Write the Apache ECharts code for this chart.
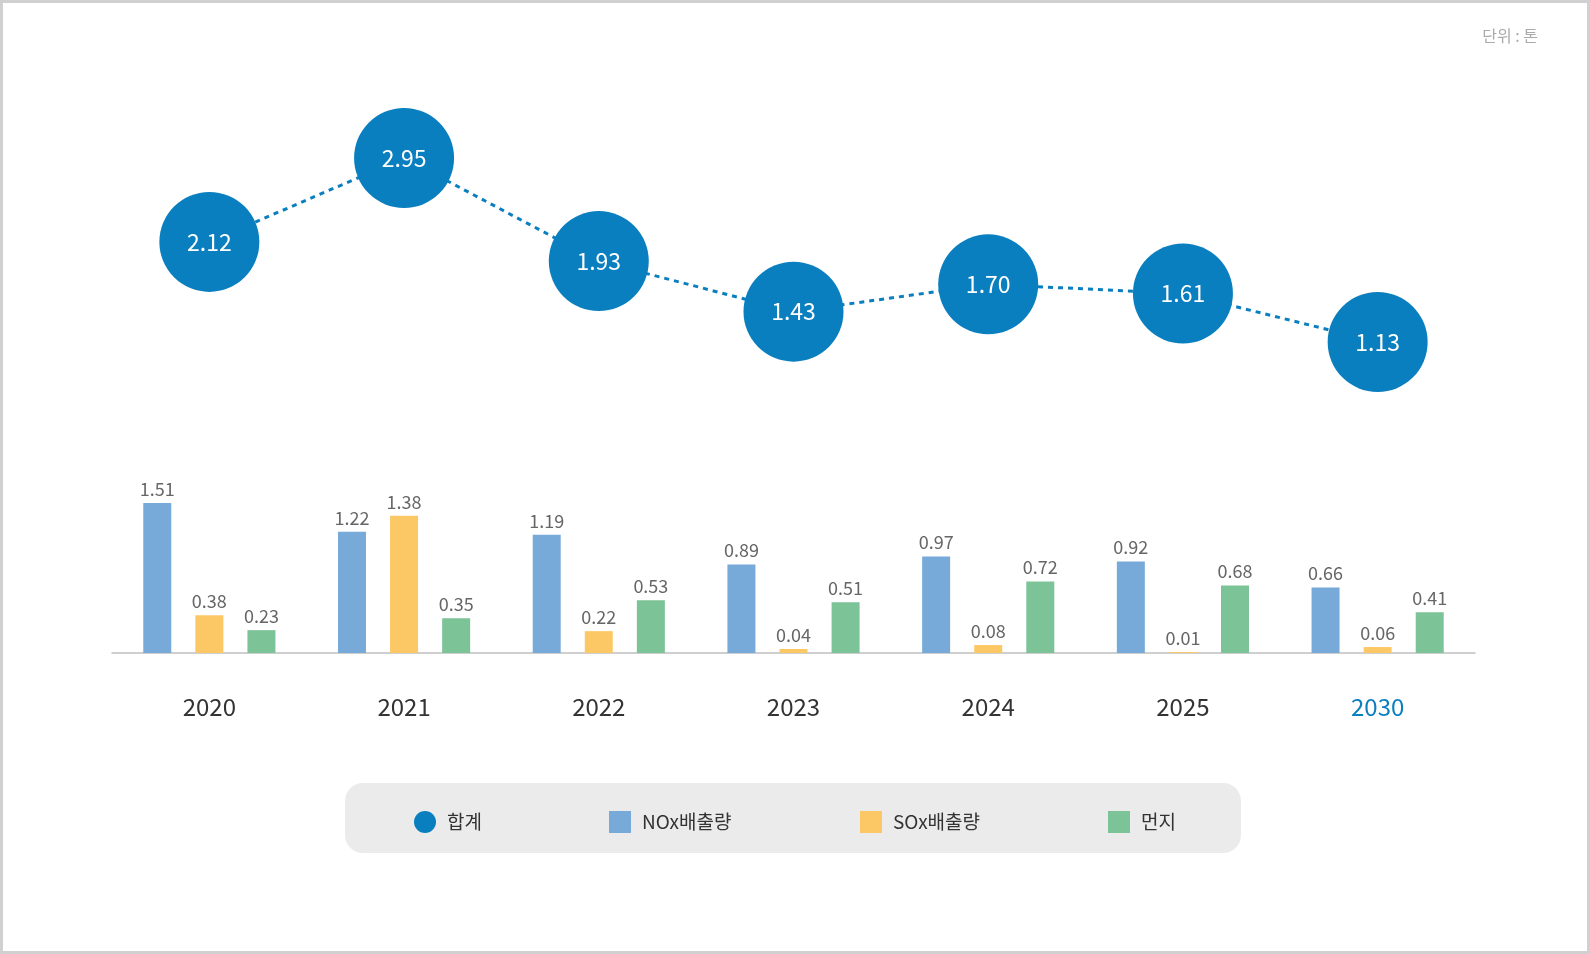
<!DOCTYPE html>
<html><head><meta charset="utf-8">
<script src="https://cdn.jsdelivr.net/npm/echarts@6/dist/echarts.min.js"></script>
<style>html,body{margin:0;padding:0;background:#fff}#c{width:1590px;height:954px}</style>
</head><body><div id="c"></div>
<script>
const years = ['2020','2021','2022','2023','2024','2025','2030'];
const total = [2.12,2.95,1.93,1.43,1.70,1.61,1.13];
const nox = [1.51,1.22,1.19,0.89,0.97,0.92,0.66];
const sox = [0.38,1.38,0.22,0.04,0.08,0.01,0.06];
const dust = [0.23,0.35,0.53,0.51,0.72,0.68,0.41];
const F = '"Noto Sans CJK KR","Noto Sans",sans-serif';
const chart = echarts.init(document.getElementById('c'));
const lbl = {show:true,position:'top',color:'#666',fontSize:18,fontFamily:F};
function leg(name,left,icon){return {data:[{name,icon}],left,top:806,itemWidth:22,itemHeight:22,textStyle:{fontSize:19,color:'#333',fontFamily:F,padding:[0,0,0,6]}};}
chart.setOption({
  animation:false,
  graphic:[
    {type:'rect',shape:{x:1.5,y:1.5,width:1587,height:951},style:{fill:'none',stroke:'#d0d0d0',lineWidth:3}},
    {type:'rect',shape:{x:345,y:783,width:896,height:70,r:18},style:{fill:'#ebebeb'},z:-1},
    {type:'text',right:52,top:28,style:{text:'단위 : 톤',fill:'#aaa',fontSize:16,fontFamily:F}}
  ],
  legend:[leg('합계',409,'circle'),leg('NOx배출량',604,'rect'),leg('SOx배출량',855,'rect'),leg('먼지',1103,'rect')],
  grid:[
    {left:112,right:115,top:158,height:184},
    {left:112,right:115,top:488,height:165}
  ],
  xAxis:[
    {gridIndex:0,type:'category',data:years,show:false},
    {gridIndex:1,type:'category',data:years,
     axisLine:{lineStyle:{color:'#c0c0c0',width:1.5}},
     axisTick:{inside:true,length:6,lineStyle:{color:'#b0b0b0',width:1.5}},
     axisLabel:{margin:42,fontSize:24,fontFamily:F,color:(v)=>v==='2030'?'#0a7fc0':'#333'}}
  ],
  yAxis:[
    {gridIndex:0,type:'value',min:1.13,max:2.95,show:false},
    {gridIndex:1,type:'value',min:0,max:1.66,show:false}
  ],
  series:[
    {name:'합계',type:'line',xAxisIndex:0,yAxisIndex:0,data:total,symbol:'circle',symbolSize:100,
     itemStyle:{color:'#0a7fbf'},lineStyle:{color:'#0a7fbf',width:3,type:[5,5]},
     label:{show:true,position:'inside',color:'#fff',fontSize:23,fontFamily:F,formatter:p=>p.value.toFixed(2)},z:5},
    {name:'NOx배출량',type:'bar',xAxisIndex:1,yAxisIndex:1,data:nox,barWidth:28,barGap:'86%',itemStyle:{color:'#78aad9'},label:lbl},
    {name:'SOx배출량',type:'bar',xAxisIndex:1,yAxisIndex:1,data:sox,barWidth:28,barGap:'86%',itemStyle:{color:'#fcc865'},label:lbl},
    {name:'먼지',type:'bar',xAxisIndex:1,yAxisIndex:1,data:dust,barWidth:28,barGap:'86%',itemStyle:{color:'#7cc397'},label:lbl}
  ]
});
</script></body></html>
